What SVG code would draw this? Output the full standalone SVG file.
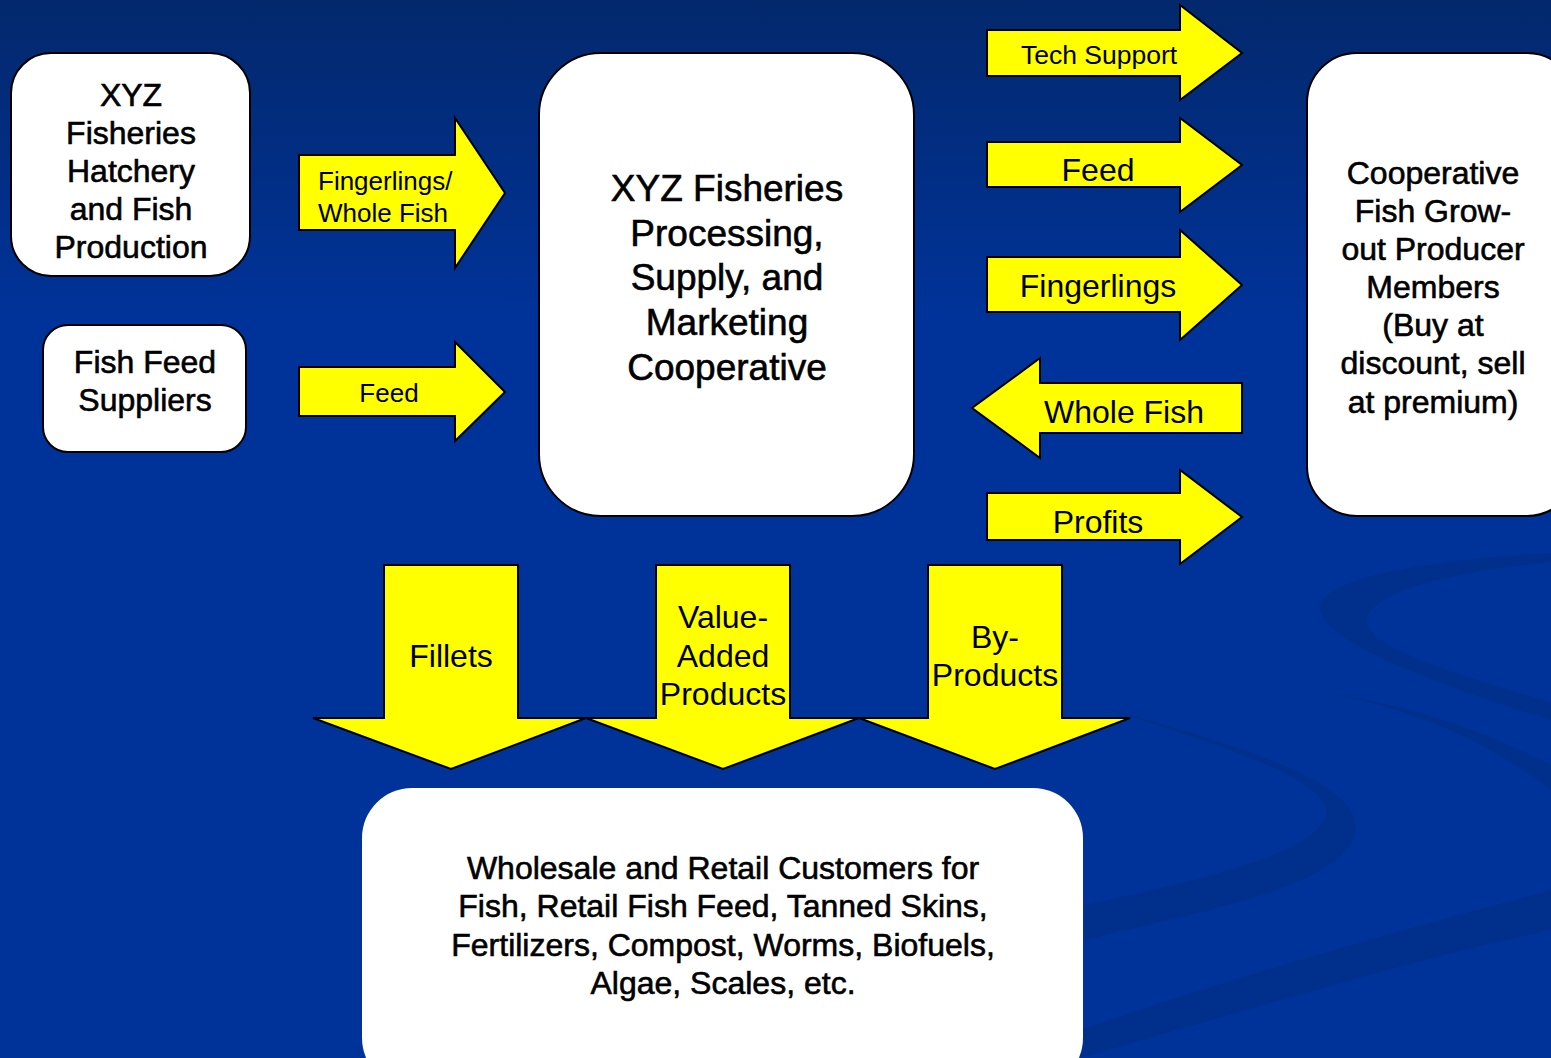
<svg xmlns="http://www.w3.org/2000/svg" width="1551" height="1058" viewBox="0 0 1551 1058">
<style>
.box{fill:#fff;stroke:#000;stroke-width:2}
.arr{fill:#ffff00;stroke:#000;stroke-width:2;stroke-linejoin:miter}
.t{font-family:"Liberation Sans",Arial,sans-serif;fill:#000;text-anchor:middle}
.bt{stroke:#000;stroke-width:0.6}
.sw{fill:#00308c}
</style>
<defs>
<linearGradient id="bg" x1="0" y1="0" x2="0" y2="1">
<stop offset="0" stop-color="#03286c"/>
<stop offset="0.3" stop-color="#003399"/>
<stop offset="1" stop-color="#003399"/>
</linearGradient>
</defs>
<rect width="1551" height="1058" fill="url(#bg)"/>
<g id="background-swooshes">
<path class="sw" d="M1060,695 C1200,735 1362,775 1356,830 C1350,885 1200,912 1085,940 L1085,905 C1200,880 1330,850 1326,810 C1322,775 1200,738 1060,695 Z"/>
<path class="sw" d="M1551,553 C1420,560 1315,580 1320,610 C1325,640 1420,680 1551,720 L1551,702 C1430,668 1365,642 1367,620 C1370,592 1450,572 1551,562 Z"/>
<path class="sw" d="M1310,690 C1400,705 1480,735 1551,790 L1551,765 C1480,728 1400,702 1310,690 Z"/>
<path class="sw" d="M1080,1030 C1250,972 1400,930 1551,890 L1551,930 C1400,962 1250,1010 1080,1058 Z"/>
</g>
<g id="node-hatchery">
<rect class="box" x="11" y="53" width="239" height="223" rx="40"/>
<text class="t bt" font-size="32"><tspan x="131" y="106">XYZ</tspan><tspan x="131" y="144">Fisheries</tspan><tspan x="131" y="182">Hatchery</tspan><tspan x="131" y="220">and Fish</tspan><tspan x="131" y="258">Production</tspan></text>
</g>
<g id="node-feed-suppliers">
<rect class="box" x="43" y="325" width="203" height="127" rx="25"/>
<text class="t bt" font-size="32"><tspan x="145" y="373">Fish Feed</tspan><tspan x="145" y="411">Suppliers</tspan></text>
</g>
<g id="node-cooperative">
<rect class="box" x="539" y="53" width="375" height="463" rx="62"/>
<text class="t bt" font-size="37"><tspan x="727" y="201">XYZ Fisheries</tspan><tspan x="727" y="246">Processing,</tspan><tspan x="727" y="290">Supply, and</tspan><tspan x="727" y="335">Marketing</tspan><tspan x="727" y="380">Cooperative</tspan></text>
</g>
<g id="node-members">
<rect class="box" x="1307" y="53" width="270" height="463" rx="50"/>
<text class="t bt" font-size="32"><tspan x="1433" y="184">Cooperative</tspan><tspan x="1433" y="222">Fish Grow-</tspan><tspan x="1433" y="260">out Producer</tspan><tspan x="1433" y="298">Members</tspan><tspan x="1433" y="336">(Buy at</tspan><tspan x="1433" y="374">discount, sell</tspan><tspan x="1433" y="413">at premium)</tspan></text>
</g>
<g id="node-customers">
<rect x="362" y="788" width="721" height="300" rx="50" fill="#fff"/>
<text class="t bt" font-size="32"><tspan x="723" y="879">Wholesale and Retail Customers for</tspan><tspan x="723" y="917">Fish, Retail Fish Feed, Tanned Skins,</tspan><tspan x="723" y="956">Fertilizers, Compost, Worms, Biofuels,</tspan><tspan x="723" y="994">Algae, Scales, etc.</tspan></text>
</g>
<g id="connectors">
<g id="arrow-fingerlings-whole-fish">
<path class="arr" d="M299,155 H455 V118 L505,193 L455,268 V230 H299 Z"/>
<text class="t" font-size="26" style="text-anchor:start"><tspan x="318" y="190">Fingerlings/</tspan><tspan x="318" y="222">Whole Fish</tspan></text>
</g>
<g id="arrow-feed-in">
<path class="arr" d="M299,367 H455 V342 L505,392 L455,441 V416 H299 Z"/>
<text class="t" font-size="26" x="389" y="402">Feed</text>
</g>
<g id="arrow-tech-support">
<path class="arr" d="M987,30 H1180 V5 L1242,53 L1180,100 V76 H987 Z"/>
<text class="t" font-size="26.5" x="1099" y="64">Tech Support</text>
</g>
<g id="arrow-feed-out">
<path class="arr" d="M987,142 H1180 V118 L1242,165 L1180,212 V187 H987 Z"/>
<text class="t" font-size="32" x="1098" y="181">Feed</text>
</g>
<g id="arrow-fingerlings-out">
<path class="arr" d="M987,257 H1180 V230 L1242,285 L1180,340 V312 H987 Z"/>
<text class="t" font-size="32" x="1098" y="297">Fingerlings</text>
</g>
<g id="arrow-whole-fish-in">
<path class="arr" d="M1242,383 H1040 V358 L972,408 L1040,458 V433 H1242 Z"/>
<text class="t" font-size="32" x="1124" y="423">Whole Fish</text>
</g>
<g id="arrow-profits">
<path class="arr" d="M987,493 H1180 V470 L1242,517 L1180,564 V540 H987 Z"/>
<text class="t" font-size="32" x="1098" y="533">Profits</text>
</g>
<g id="arrow-fillets">
<path class="arr" d="M384,565 H518 V718 H586 L451,769 L313,718 H384 Z"/>
<text class="t" font-size="32" x="451" y="667">Fillets</text>
</g>
<g id="arrow-value-added">
<path class="arr" d="M656,565 H790 V718 H859 L723,769 L586,718 H656 Z"/>
<text class="t" font-size="32"><tspan x="723" y="628">Value-</tspan><tspan x="723" y="667">Added</tspan><tspan x="723" y="705">Products</tspan></text>
</g>
<g id="arrow-by-products">
<path class="arr" d="M928,565 H1062 V718 H1130 L995,769 L859,718 H928 Z"/>
<text class="t" font-size="32"><tspan x="995" y="648">By-</tspan><tspan x="995" y="686">Products</tspan></text>
</g>
</g>
</svg>
